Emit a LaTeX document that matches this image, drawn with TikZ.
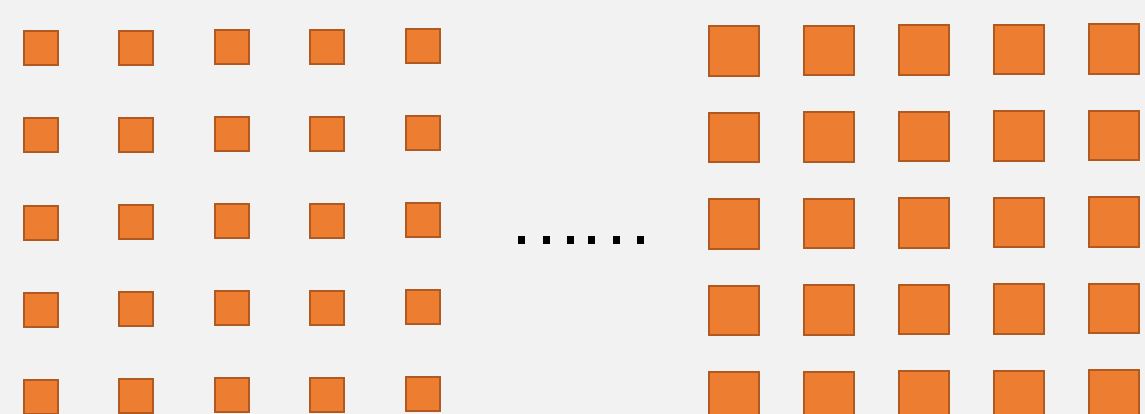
\documentclass[tikz,border=0pt]{standalone}
\usetikzlibrary{calc}
\definecolor{cellfill}{HTML}{ED7D31}
\definecolor{celledge}{HTML}{B05A22}
\definecolor{bgcol}{HTML}{F2F2F2}
\tikzset{
  small cell/.style={draw=celledge, fill=cellfill, line width=2pt, minimum size=34pt, inner sep=0pt},
  big cell/.style={draw=celledge, fill=cellfill, line width=2pt, minimum size=49.5pt, inner sep=0pt},
  dotmark/.style={fill=black, minimum width=7pt, minimum height=8.5pt, inner sep=0pt}
}
\begin{document}
\begin{tikzpicture}[x=1pt, y=-1pt]
% Background and bounds
\fill[bgcol] (0,0) rectangle (1145,414);
\useasboundingbox (0,0) rectangle (1145,414);
% Parameters
\def\dx{95.5}
\def\dy{87}
% Grid origins
\coordinate (L) at (40.5,48.5);
\coordinate (R) at (734,51);
% Small cells (left grid)
\foreach \i in {0,...,4}
  \foreach \j in {0,...,4}
    \node[small cell] (l-\i-\j) at ($(L)+(\i*\dx,\j*\dy-0.6*\i)$) {};
% Big cells (right grid)
\foreach \i in {0,...,4}
  \foreach \j in {0,...,4}
    \node[big cell] (r-\i-\j) at ($(R)+(\i*95,\j*86.5-0.5*\i)$) {};
% Dots in the middle
\foreach \x [count=\k] in {521.5,546,570.5,591.5,616,640.5}
  \node[dotmark] (d-\k) at (\x,240) {};
\end{tikzpicture}
\end{document}
